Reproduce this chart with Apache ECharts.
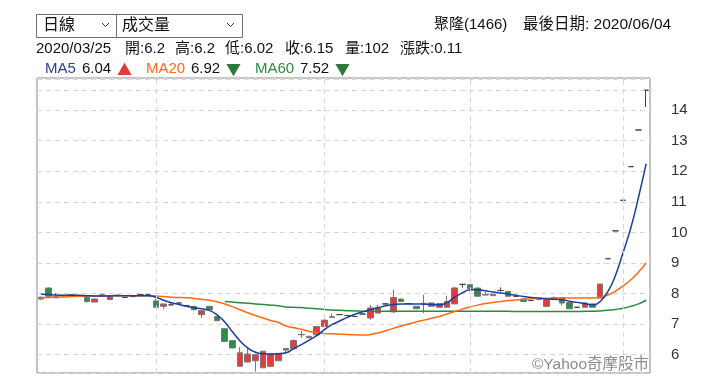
<!DOCTYPE html>
<html>
<head>
<meta charset="utf-8">
<script src="https://cdn.jsdelivr.net/npm/echarts@6/dist/echarts.min.js"></script>
<style>
  html, body { margin: 0; padding: 0; background: #fff; }
  #main { width: 720px; height: 378px; }
</style>
</head>
<body>
<div id="main"></div>
<script>
// 交易日 (2020/02/07 ~ 2020/06/04)
var dates = [
  '2020/02/07','2020/02/10','2020/02/11','2020/02/12','2020/02/13','2020/02/14','2020/02/17','2020/02/18','2020/02/19','2020/02/20',
  '2020/02/21','2020/02/24','2020/02/25','2020/02/26','2020/02/27','2020/03/02','2020/03/03','2020/03/04','2020/03/05','2020/03/06',
  '2020/03/09','2020/03/10','2020/03/11','2020/03/12','2020/03/13','2020/03/16','2020/03/17','2020/03/18','2020/03/19','2020/03/20',
  '2020/03/23','2020/03/24','2020/03/25','2020/03/26','2020/03/27','2020/03/30','2020/03/31','2020/04/01','2020/04/06','2020/04/07',
  '2020/04/08','2020/04/09','2020/04/10','2020/04/13','2020/04/14','2020/04/15','2020/04/16','2020/04/17','2020/04/20','2020/04/21',
  '2020/04/22','2020/04/23','2020/04/24','2020/04/27','2020/04/28','2020/04/29','2020/05/04','2020/05/05','2020/05/06','2020/05/07',
  '2020/05/08','2020/05/11','2020/05/12','2020/05/13','2020/05/14','2020/05/15','2020/05/18','2020/05/19','2020/05/20','2020/05/21',
  '2020/05/22','2020/05/25','2020/05/26','2020/05/27','2020/05/28','2020/05/29','2020/06/01','2020/06/02','2020/06/03','2020/06/04'
];

var opens = [
  7.82,8.18,7.90,7.92,7.95,7.93,7.88,7.72,7.95,7.80,
  7.93,7.87,7.90,7.96,7.96,7.76,7.58,7.63,7.69,7.60,
  7.58,7.31,7.58,7.25,6.85,6.46,5.62,5.76,5.80,5.57,
  5.62,5.80,6.20,6.19,6.65,6.55,6.65,6.92,7.22,7.31,
  7.28,7.25,7.33,7.20,7.36,7.66,7.40,7.82,7.67,7.58,
  7.67,7.58,7.55,7.55,7.66,8.30,8.29,8.18,7.95,7.93,
  8.10,8.07,7.91,7.82,7.77,7.82,7.58,7.87,7.87,7.71,
  7.55,7.55,7.66,7.85,9.14,10.05,11.05,12.15,13.35,14.65
];
var closes = [
  7.88,7.91,7.86,7.94,7.96,7.93,7.74,7.82,7.96,7.90,
  7.95,7.87,7.90,7.96,7.96,7.55,7.66,7.63,7.69,7.60,
  7.47,7.44,7.47,7.11,6.43,6.22,6.06,6.02,6.00,6.11,
  6.02,6.04,6.15,6.46,6.66,6.60,6.92,7.13,7.24,7.31,
  7.28,7.25,7.33,7.53,7.55,7.66,7.87,7.74,7.67,7.50,
  7.68,7.69,7.67,7.74,8.18,8.30,8.16,7.91,7.97,7.98,
  8.10,7.91,7.91,7.74,7.77,7.82,7.80,7.80,7.69,7.50,
  7.55,7.69,7.55,8.31,9.14,10.05,11.05,12.15,13.35,14.65
];
var lows = [
  7.80,7.90,7.85,7.90,7.94,7.92,7.70,7.72,7.94,7.80,
  7.92,7.85,7.89,7.95,7.95,7.55,7.50,7.62,7.68,7.58,
  7.45,7.20,7.46,7.10,6.42,6.20,5.62,5.75,5.45,5.57,
  5.62,5.80,6.02,6.19,6.55,6.55,6.65,6.92,7.22,7.30,
  7.27,7.24,7.32,7.14,7.36,7.65,7.36,7.73,7.66,7.49,
  7.36,7.58,7.55,7.55,7.66,8.19,8.07,7.91,7.94,7.93,
  8.06,7.90,7.90,7.73,7.76,7.81,7.58,7.79,7.62,7.50,
  7.54,7.55,7.55,7.85,9.14,10.05,11.05,12.15,13.35,14.10
];
var highs = [
  7.90,8.20,8.02,7.95,7.97,7.94,7.90,7.83,7.99,7.91,
  7.96,7.88,7.91,7.97,7.97,7.82,7.67,7.68,7.70,7.61,
  7.60,7.45,7.59,7.26,6.86,6.47,6.24,6.21,6.02,6.13,
  6.03,6.05,6.20,6.50,6.78,6.61,6.93,7.14,7.35,7.32,
  7.29,7.26,7.34,7.63,7.63,7.67,8.12,7.83,7.68,7.59,
  7.96,7.70,7.68,7.93,8.22,8.31,8.30,8.19,8.05,7.99,
  8.20,8.08,7.92,7.83,7.78,7.83,7.81,7.90,7.88,7.72,
  7.56,7.70,7.67,8.31,9.14,10.05,11.05,12.15,13.35,14.65
];

var ma5 = [
  7.98,7.97,7.95,7.94,7.94,7.94,7.93,7.92,7.92,7.92,
  7.93,7.93,7.93,7.93,7.93,7.88,7.78,7.70,7.64,7.58,
  7.53,7.50,7.45,7.30,7.07,6.75,6.45,6.22,6.08,6.03,
  6.02,6.03,6.06,6.20,6.33,6.47,6.62,6.82,6.98,7.10,
  7.22,7.32,7.40,7.47,7.53,7.60,7.64,7.66,7.66,7.66,
  7.65,7.64,7.63,7.70,7.88,8.02,8.12,8.12,8.09,8.05,
  8.02,7.98,7.94,7.90,7.87,7.85,7.83,7.81,7.80,7.75,
  7.71,7.67,7.63,7.74,8.06,8.60,9.35,10.15,11.15,12.25
];
var ma20 = [
  7.86,7.87,7.88,7.89,7.90,7.91,7.91,7.92,7.92,7.93,
  7.93,7.93,7.93,7.93,7.93,7.92,7.90,7.88,7.87,7.86,
  7.84,7.81,7.78,7.73,7.66,7.57,7.47,7.37,7.28,7.20,
  7.12,7.05,6.94,6.88,6.83,6.76,6.72,6.69,6.68,6.67,
  6.66,6.65,6.64,6.66,6.71,6.78,6.86,6.94,7.00,7.07,
  7.13,7.19,7.25,7.33,7.41,7.49,7.56,7.62,7.67,7.71,
  7.74,7.77,7.79,7.81,7.83,7.84,7.84,7.85,7.85,7.85,
  7.85,7.85,7.85,7.88,7.95,8.08,8.25,8.45,8.70,9.00
];
var ma60 = [
  null,null,null,null,null,null,null,null,null,null,
  null,null,null,null,null,null,null,null,null,null,
  null,null,null,null,7.74,7.72,7.70,7.68,7.66,7.64,
  7.62,7.60,7.56,7.55,7.54,7.52,7.50,7.48,7.46,7.45,
  7.44,7.43,7.42,7.42,7.42,7.42,7.42,7.42,7.42,7.42,
  7.42,7.42,7.42,7.42,7.42,7.42,7.42,7.42,7.42,7.42,
  7.42,7.42,7.41,7.41,7.41,7.41,7.41,7.41,7.41,7.41,
  7.41,7.42,7.42,7.43,7.45,7.48,7.52,7.58,7.66,7.78
];

// 月份分隔線
var monthMarks = ['2020/03/02', '2020/04/01', '2020/05/04', '2020/06/01'];

var font = '"Liberation Sans", "Noto Sans CJK TC", sans-serif';

var kData = [];
for (var i = 0; i < dates.length; i++) {
    kData.push([opens[i], closes[i], lows[i], highs[i]]);
}
var maxHigh = Math.max.apply(null, highs);

var markData = monthMarks.map(function (d) { return { xAxis: d }; });
markData.push({ yAxis: maxHigh });

function txt(x, y, s, color, size) {
    return {
        type: 'text', x: x, y: y,
        style: { text: s, font: (size || 15) + 'px ' + font, fill: color || '#111', verticalAlign: 'middle' }
    };
}

var chart = echarts.init(document.getElementById('main'));
var option = {
    animation: false,
    backgroundColor: '#fff',
    grid: {
        left: 37,
        right: 70,
        top: 78,
        bottom: 5,
        show: true,
        borderColor: '#888',
        borderWidth: 1
    },
    xAxis: {
        type: 'category',
        data: dates,
        boundaryGap: true,
        axisLine: { show: false },
        axisTick: { show: false },
        axisLabel: { show: false },
        splitLine: { show: false }
    },
    yAxis: {
        type: 'value',
        position: 'right',
        min: 5.4,
        max: 15.05,
        splitNumber: 9,
        minInterval: 1,
        maxInterval: 1,
        axisLine: { show: false },
        axisTick: { show: false },
        axisLabel: {
            color: '#333',
            fontSize: 15,
            fontFamily: font,
            margin: 21,
            showMinLabel: false,
            showMaxLabel: false,
            formatter: function (v) {
                if (v > 14.5 || v < 5.9 || Math.round(v) !== v) return '';
                return v;
            }
        },
        splitLine: { lineStyle: { color: '#d6d6d6', type: [5, 4] } }
    },
    series: [
        {
            type: 'candlestick',
            data: kData,
            barWidth: 6,
            itemStyle: {
                color: '#e53b3b',
                color0: '#2f8c45',
                borderColor: '#777',
                borderColor0: '#777',
                borderColorDoji: '#444',
                borderWidth: 1
            },
            markLine: {
                silent: true,
                symbol: 'none',
                label: { show: false },
                lineStyle: { color: '#d6d6d6', type: [5, 4], width: 1 },
                data: markData
            }
        },
        {
            type: 'line', data: ma60, smooth: true, showSymbol: false,
            lineStyle: { color: '#2b8a3e', width: 1.5 }
        },
        {
            type: 'line', data: ma20, smooth: true, showSymbol: false,
            lineStyle: { color: '#ff6a13', width: 1.5 }
        },
        {
            type: 'line', data: ma5, smooth: true, showSymbol: false,
            lineStyle: { color: '#1c3ca0', width: 1.5 }
        }
    ],
    graphic: [
        { type: 'rect', shape: { x: 36.5, y: 14.5, width: 80, height: 23 },
          style: { fill: '#fff', stroke: '#6e6e6e', lineWidth: 1 } },
        { type: 'rect', shape: { x: 116.5, y: 14.5, width: 126, height: 23 },
          style: { fill: '#fff', stroke: '#6e6e6e', lineWidth: 1 } },
        txt(43, 26, '日線', '#111', 16),
        txt(122, 26, '成交量', '#111', 16),
        { type: 'polyline', shape: { points: [[102, 23], [105.5, 26.5], [109, 23]] }, style: { stroke: '#333', lineWidth: 1, fill: null } },
        { type: 'polyline', shape: { points: [[227, 23], [230.5, 26.5], [234, 23]] }, style: { stroke: '#333', lineWidth: 1, fill: null } },

        txt(434, 25, '聚隆(1466)'),
        txt(523, 25, '最後日期: 2020/06/04', '#111', 15.5),

        txt(36, 49, '2020/03/25'),
        txt(125, 49, '開:6.2'),
        txt(175, 49, '高:6.2'),
        txt(225, 49, '低:6.02'),
        txt(285, 49, '收:6.15'),
        txt(345, 49, '量:102'),
        txt(400, 49, '漲跌:0.11'),

        txt(45, 69, 'MA5', '#2a3f9e'),
        txt(82, 69, '6.04'),
        { type: 'text', x: 117, y: 69, style: { text: '▲', font: '15px "Noto Sans CJK TC", sans-serif', fill: '#e53b3b', verticalAlign: 'middle' } },
        txt(146, 69, 'MA20', '#ff6a13'),
        txt(191, 69, '6.92'),
        { type: 'text', x: 226, y: 69, style: { text: '▼', font: '15px "Noto Sans CJK TC", sans-serif', fill: '#2b7a3e', verticalAlign: 'middle' } },
        txt(255, 69, 'MA60', '#2b8a3e'),
        txt(300, 69, '7.52'),
        { type: 'text', x: 335, y: 69, style: { text: '▼', font: '15px "Noto Sans CJK TC", sans-serif', fill: '#2b7a3e', verticalAlign: 'middle' } },

        { type: 'text', x: 649, y: 365, style: { text: '©Yahoo奇摩股市', font: '15.5px ' + font, fill: '#8c8c8c', align: 'right', verticalAlign: 'middle' } }
    ]
};
chart.setOption(option);
window.addEventListener('resize', chart.resize);
</script>
</body>
</html>
